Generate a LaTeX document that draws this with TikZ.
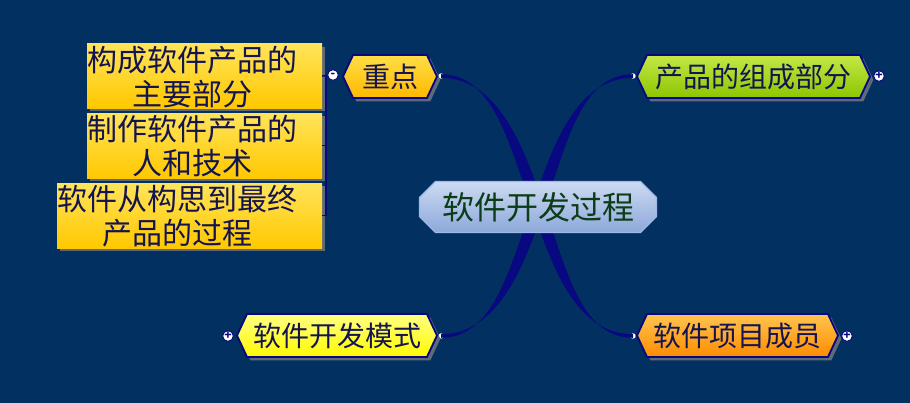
\documentclass[tikz,border=0pt]{standalone}
\usepackage{fontspec}
\setmainfont{Noto Sans CJK SC}
\usetikzlibrary{shapes.misc, shapes.symbols, shadows, calc, positioning}

\definecolor{bg}{RGB}{2,48,96}
\definecolor{navy}{RGB}{8,8,128}
\definecolor{ink}{RGB}{20,20,80}
\definecolor{shade}{RGB}{95,105,120}
\definecolor{coretop}{RGB}{205,218,242}
\definecolor{corebot}{RGB}{140,168,218}
\definecolor{coreedge}{RGB}{160,185,230}
\definecolor{coretext}{RGB}{12,60,24}
\definecolor{goldtop}{RGB}{255,222,70}
\definecolor{goldbot}{RGB}{255,184,0}
\definecolor{greentop}{RGB}{196,232,70}
\definecolor{greenbot}{RGB}{140,198,0}
\definecolor{yellowtop}{RGB}{255,255,130}
\definecolor{yellowbot}{RGB}{255,250,0}
\definecolor{orangetop}{RGB}{255,196,80}
\definecolor{orangebot}{RGB}{255,140,0}
\definecolor{boxtop}{RGB}{255,228,90}
\definecolor{boxbot}{RGB}{255,200,0}

\begin{document}
\begin{tikzpicture}[x=0.75pt, y=-0.75pt,
    core/.style={chamfered rectangle, chamfered rectangle xsep=6pt, chamfered rectangle ysep=6pt, draw=coreedge, line width=1pt, top color=coretop, bottom color=corebot, text=coretext, font=\fontsize{24}{28}\selectfont, minimum width=177.75pt, minimum height=38.25pt, inner sep=0pt},
    topic/.style={signal, signal to=west and east, signal pointer angle=130, draw=navy, line width=1.4pt, text=ink, font=\fontsize{21}{24}\selectfont, minimum height=32.25pt, inner sep=0pt, drop shadow={shadow xshift=2.5pt, shadow yshift=-2.5pt, fill=shade, opacity=1}},
    subbox/.style={rectangle, top color=boxtop, bottom color=boxbot, minimum height=48pt, inner sep=0pt, drop shadow={shadow xshift=2pt, shadow yshift=-2pt, fill=shade, opacity=1}},
    subtext/.style={text=ink, align=center, font=\fontsize{22.5}{25.5}\selectfont},
    knob/.style={circle, draw=navy, fill=white, line width=0.7pt, inner sep=0pt, minimum size=8pt, text=navy, font=\fontsize{9}{9}\selectfont\bfseries},
    dot/.style={circle, fill=white, inner sep=0pt, minimum size=4pt},
    branch/.style={fill=navy},
    trunk/.style={draw=navy, line width=1.2pt}
]

% background
\fill[bg] (0,0) rectangle (910,403);
\useasboundingbox (0,0) rectangle (910,403);

% anchor points
\coordinate (m) at (538,207);
\node[dot] (dz) at (441,76) {};
\node[dot] (dp) at (633,76) {};
\node[dot] (dm) at (441,336) {};
\node[dot] (dy) at (633,336) {};

% curved branches
\fill[branch] ($(dz)+(0,-1.8)$) .. controls +(54,0) and +(-22,-57) .. ($(m)+(-6,0)$)
    -- ($(m)+(6,0)$) .. controls +(-19,-57) and +(58,0) .. ($(dz)+(0,1.8)$) -- cycle;
\fill[branch] ($(dp)+(0,-1.8)$) .. controls +(-54,0) and +(22,-57) .. ($(m)+(6,0)$)
    -- ($(m)+(-6,0)$) .. controls +(19,-57) and +(-58,0) .. ($(dp)+(0,1.8)$) -- cycle;
\fill[branch] ($(dm)+(0,1.8)$) .. controls +(54,0) and +(-22,57) .. ($(m)+(-6,0)$)
    -- ($(m)+(6,0)$) .. controls +(-19,57) and +(58,0) .. ($(dm)+(0,-1.8)$) -- cycle;
\fill[branch] ($(dy)+(0,1.8)$) .. controls +(-54,0) and +(22,57) .. ($(m)+(6,0)$)
    -- ($(m)+(-6,0)$) .. controls +(19,57) and +(-58,0) .. ($(dy)+(0,-1.8)$) -- cycle;

% central topic
\node[core] (core) at (m) {软件开发过程};

% main topics
\node[topic, top color=goldtop, bottom color=goldbot, minimum width=70.5pt] (zd) at (390,76.5) {重点};
\node[topic, top color=greentop, bottom color=greenbot, minimum width=174.75pt] (cp) at (753.5,76.5) {产品的组成部分};
\node[topic, top color=yellowtop, bottom color=yellowbot, minimum width=150pt] (ms) at (337,335.5) {软件开发模式};
\node[topic, top color=orangetop, bottom color=orangebot, minimum width=150.75pt] (cy) at (737.5,335.5) {软件项目成员};

% sub topics
\node[subbox, minimum width=176.25pt] (b1) at (204.5,76) {};
\node[subtext] (t1) at (192,77) {构成软件产品的\\主要部分};
\node[subbox, minimum width=176.25pt, minimum height=48.75pt] (b2) at (204.5,145.5) {};
\node[subtext] (t2) at (192,146) {制作软件产品的\\人和技术};
\node[subbox, minimum width=198.75pt, minimum height=48.75pt] (b3) at (189.5,215.5) {};
\node[subtext] (t3) at (177,216) {软件从构思到最终\\产品的过程};

% tree connector
\coordinate (fork) at (326,76);
\draw[trunk] (333,75) -- (b1.east);
\draw[trunk] (fork) |- (b2.east);
\draw[trunk] (fork) |- (b3.east);

% knobs
\node[knob] (kz) at (333,75) {-};
\node[knob] (kp) at (879,76) {+};
\node[knob] (km) at (228,336) {+};
\node[knob] (ky) at (847,336) {+};

\end{tikzpicture}
\end{document}
